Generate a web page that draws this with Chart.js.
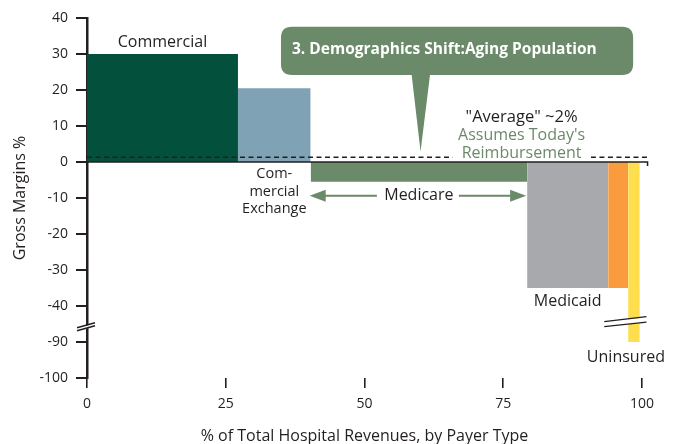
<!DOCTYPE html>
<html><head><meta charset="utf-8">
<script src="https://cdn.jsdelivr.net/npm/chart.js@4/dist/chart.umd.min.js"></script>
<style>html,body{margin:0;padding:0;background:#fff}</style>
</head><body>
<canvas id="c" width="678" height="444"></canvas>
<script>
// ---- data ----
const payers = ['Commercial', 'Commercial Exchange', 'Medicare', 'Medicaid', 'Other', 'Uninsured'];
const shareStart = [0, 27.2, 40.3, 79.3, 93.9, 97.5];   // % of total hospital revenues (cumulative start)
const shareEnd   = [27.2, 40.3, 79.3, 93.9, 97.5, 99.6]; // cumulative end
const margins    = [30, 20.5, -5.5, -35, -35, -90];       // gross margin %
const payerColors = ['#03513c', '#7fa3b5', '#6b8a69', '#a7a9ac', '#f89c3e', '#ffde4d'];
const averageMargin = 1.3;
const xTickValues = [0, 25, 50, 75, 100];
const yTickValues = [40, 30, 20, 10, 0, -10, -20, -30, -40, -90, -100];

// ---- axis break mapping (-40 ... -90 collapsed) ----
const BREAK_TOP = -40, BREAK_BOTTOM = -90, BREAK_GAP = 10;
function toAxis(v) { return v <= BREAK_BOTTOM ? BREAK_TOP - BREAK_GAP + (v - BREAK_BOTTOM) : v; }
function fromAxis(a) { return a < BREAK_TOP - BREAK_GAP / 2 ? a - (BREAK_TOP - BREAK_GAP) + BREAK_BOTTOM : a; }

const INK = '#231f20';
const GREEN = '#6b8a69';
const FONT = "'Open Sans', 'Noto Sans', sans-serif";

const datasets = payers.map((p, i) => ({
  label: p,
  data: [{ x: shareStart[i], y: toAxis(margins[i]) }, { x: shareEnd[i], y: toAxis(margins[i]) }],
  fill: 'origin',
  backgroundColor: payerColors[i],
  borderColor: 'rgba(0,0,0,0)',
  borderWidth: 0,
  pointRadius: 0,
  tension: 0
}));

function arrow(ctx, x1, y, x2, color) {
  const dir = Math.sign(x2 - x1);
  const hl = 16, hw = 6;
  ctx.strokeStyle = color; ctx.fillStyle = color; ctx.lineWidth = 2;
  ctx.beginPath(); ctx.moveTo(x1, y); ctx.lineTo(x2 - dir * hl + dir * 2, y); ctx.stroke();
  ctx.beginPath(); ctx.moveTo(x2, y); ctx.lineTo(x2 - dir * hl, y - hw); ctx.lineTo(x2 - dir * hl, y + hw); ctx.closePath(); ctx.fill();
}

const annotationPlugin = {
  id: 'annotations',
  afterDatasetsDraw(chart) {
    const ctx = chart.ctx;
    const xs = chart.scales.x, ys = chart.scales.y;
    const px = v => xs.getPixelForValue(v);
    const py = v => ys.getPixelForValue(toAxis(v));
    const pa = a => ys.getPixelForValue(a);
    ctx.save();

    // zero line
    const y0 = py(0);
    ctx.strokeStyle = INK; ctx.lineWidth = 1.5; ctx.setLineDash([]);
    ctx.beginPath(); ctx.moveTo(px(0), y0); ctx.lineTo(px(101), y0); ctx.lineTo(px(101), y0 + 4); ctx.stroke();

    // average dashed line
    const ya = py(averageMargin);
    ctx.setLineDash([5, 3.5]); ctx.lineWidth = 1.5;
    ctx.beginPath(); ctx.moveTo(px(0), ya); ctx.lineTo(px(65.9), ya); ctx.stroke();
    ctx.beginPath(); ctx.moveTo(px(90.8), ya); ctx.lineTo(px(101), ya); ctx.stroke();
    ctx.setLineDash([]);

    // y-axis break
    const yb = pa(-45.3);
    const xa = px(0);
    ctx.fillStyle = '#fff';
    ctx.beginPath();
    ctx.moveTo(xa - 9, yb + 3.2); ctx.lineTo(xa + 8, yb - 1.8); ctx.lineTo(xa + 8, yb + 0.8); ctx.lineTo(xa - 9, yb + 5.8); ctx.closePath(); ctx.fill();
    ctx.strokeStyle = INK; ctx.lineWidth = 1.5;
    ctx.beginPath(); ctx.moveTo(xa - 10, yb + 2.6); ctx.lineTo(xa + 8, yb - 2.4); ctx.stroke();
    ctx.beginPath(); ctx.moveTo(xa - 10, yb + 5.6); ctx.lineTo(xa + 8, yb + 0.6); ctx.stroke();

    // uninsured bar break
    const ybb = pa(-44.4);
    const bx1 = px(93.2), bx2 = px(100.8);
    ctx.fillStyle = '#fff';
    ctx.beginPath();
    ctx.moveTo(bx1, ybb + 0.5); ctx.lineTo(bx2, ybb - 4.5); ctx.lineTo(bx2, ybb + 0.5); ctx.lineTo(bx1, ybb + 5); ctx.closePath(); ctx.fill();
    ctx.strokeStyle = INK; ctx.lineWidth = 1.3;
    ctx.beginPath(); ctx.moveTo(bx1, ybb - 0.3); ctx.lineTo(bx2, ybb - 5.3); ctx.stroke();
    ctx.beginPath(); ctx.moveTo(bx1, ybb + 4.7); ctx.lineTo(bx2, ybb + 0.2); ctx.stroke();

    // callout
    const rx1 = px(34.95), rx2 = px(98.4), ry1 = py(37.6), ry2 = py(24.2), r = 11;
    ctx.fillStyle = GREEN;
    ctx.beginPath();
    ctx.moveTo(rx1 + r, ry1);
    ctx.lineTo(rx2 - r, ry1); ctx.quadraticCurveTo(rx2, ry1, rx2, ry1 + r);
    ctx.lineTo(rx2, ry2 - r); ctx.quadraticCurveTo(rx2, ry2, rx2 - r, ry2);
    ctx.lineTo(px(61.8), ry2);
    ctx.lineTo(px(60.1), py(2.9));
    ctx.lineTo(px(58.5), ry2);
    ctx.lineTo(rx1 + r, ry2); ctx.quadraticCurveTo(rx1, ry2, rx1, ry2 - r);
    ctx.lineTo(rx1, ry1 + r); ctx.quadraticCurveTo(rx1, ry1, rx1 + r, ry1);
    ctx.closePath(); ctx.fill();
    ctx.fillStyle = '#fff';
    ctx.font = `bold 15.5px ${FONT}`;
    ctx.textAlign = 'left'; ctx.textBaseline = 'middle';
    ctx.fillText('3. Demographics Shift:Aging Population', rx1 + 11, py(31.1));

    // labels
    ctx.fillStyle = INK; ctx.textAlign = 'center';
    ctx.font = `16px ${FONT}`;
    ctx.fillText(payers[0], px((shareStart[0] + shareEnd[0]) / 2), py(margins[0] + 3.3));
    ctx.font = `14.5px ${FONT}`;
    const cx = px((shareStart[1] + shareEnd[1]) / 2);
    ctx.fillText('Com-', cx, py(-3.2));
    ctx.fillText('mercial', cx, py(-8.3));
    ctx.fillText('Exchange', cx, py(-13.1));
    ctx.font = `16px ${FONT}`;
    const mcx = px((shareStart[2] + shareEnd[2]) / 2);
    ctx.fillText(payers[2], mcx, py(-9.2));
    const ay = py(-9.4);
    arrow(ctx, mcx - 42, ay, px(shareStart[2]) - 1, GREEN);
    arrow(ctx, mcx + 40, ay, px(shareEnd[2]) - 1, GREEN);
    ctx.fillStyle = INK;
    ctx.fillText(payers[3], px((shareStart[3] + shareEnd[3]) / 2), py(margins[3] - 3.6));
    ctx.fillText(payers[5], px(97.1), pa(-54.4));

    ctx.font = `16.5px ${FONT}`;
    ctx.fillText('"Average" ~2%', px(78.3), py(12.5));
    ctx.font = `16px ${FONT}`;
    ctx.fillStyle = GREEN;
    ctx.fillText("Assumes Today's", px(78.3), py(7.5));
    ctx.fillText('Reimbursement', px(78.3), py(2.5));
    ctx.restore();
  }
};

new Chart(document.getElementById('c'), {
  type: 'line',
  data: { datasets },
  options: {
    responsive: false,
    devicePixelRatio: 1,
    animation: false,
    layout: { padding: { top: 18, right: 36, left: 0, bottom: 0 } },
    plugins: { legend: { display: false }, tooltip: { enabled: false } },
    scales: {
      x: {
        type: 'linear', min: 0, max: 100,
        afterBuildTicks: s => { s.ticks = xTickValues.map(v => ({ value: v })); },
        afterFit: s => { s.height = 66; },
        grid: { display: true, drawOnChartArea: false, drawTicks: true, tickLength: 10, color: INK, lineWidth: 1.6 },
        border: { display: false },
        ticks: { color: INK, font: { family: FONT, size: 14 }, padding: 8, maxRotation: 0 },
        title: { display: true, text: '% of Total Hospital Revenues, by Payer Type', color: INK,
                 font: { family: FONT, size: 16, lineHeight: 1 }, padding: { top: 0, bottom: 0 } }
      },
      y: {
        type: 'linear', min: toAxis(-100), max: 40,
        afterBuildTicks: s => { s.ticks = yTickValues.map(v => ({ value: toAxis(v) })); },
        afterFit: s => { s.width = 87; },
        grid: { display: true, drawOnChartArea: false, drawTicks: true, tickLength: 11, color: INK, lineWidth: 2 },
        border: { display: true, color: INK, width: 2.5 },
        ticks: { color: INK, font: { family: FONT, size: 14 }, padding: 8,
                 callback: v => String(fromAxis(v)) },
        title: { display: true, text: 'Gross Margins %', color: INK,
                 font: { family: FONT, size: 16, lineHeight: 1.2 }, padding: { top: 11, bottom: 0 } }
      }
    }
  },
  plugins: [annotationPlugin]
});
</script>
</body></html>
